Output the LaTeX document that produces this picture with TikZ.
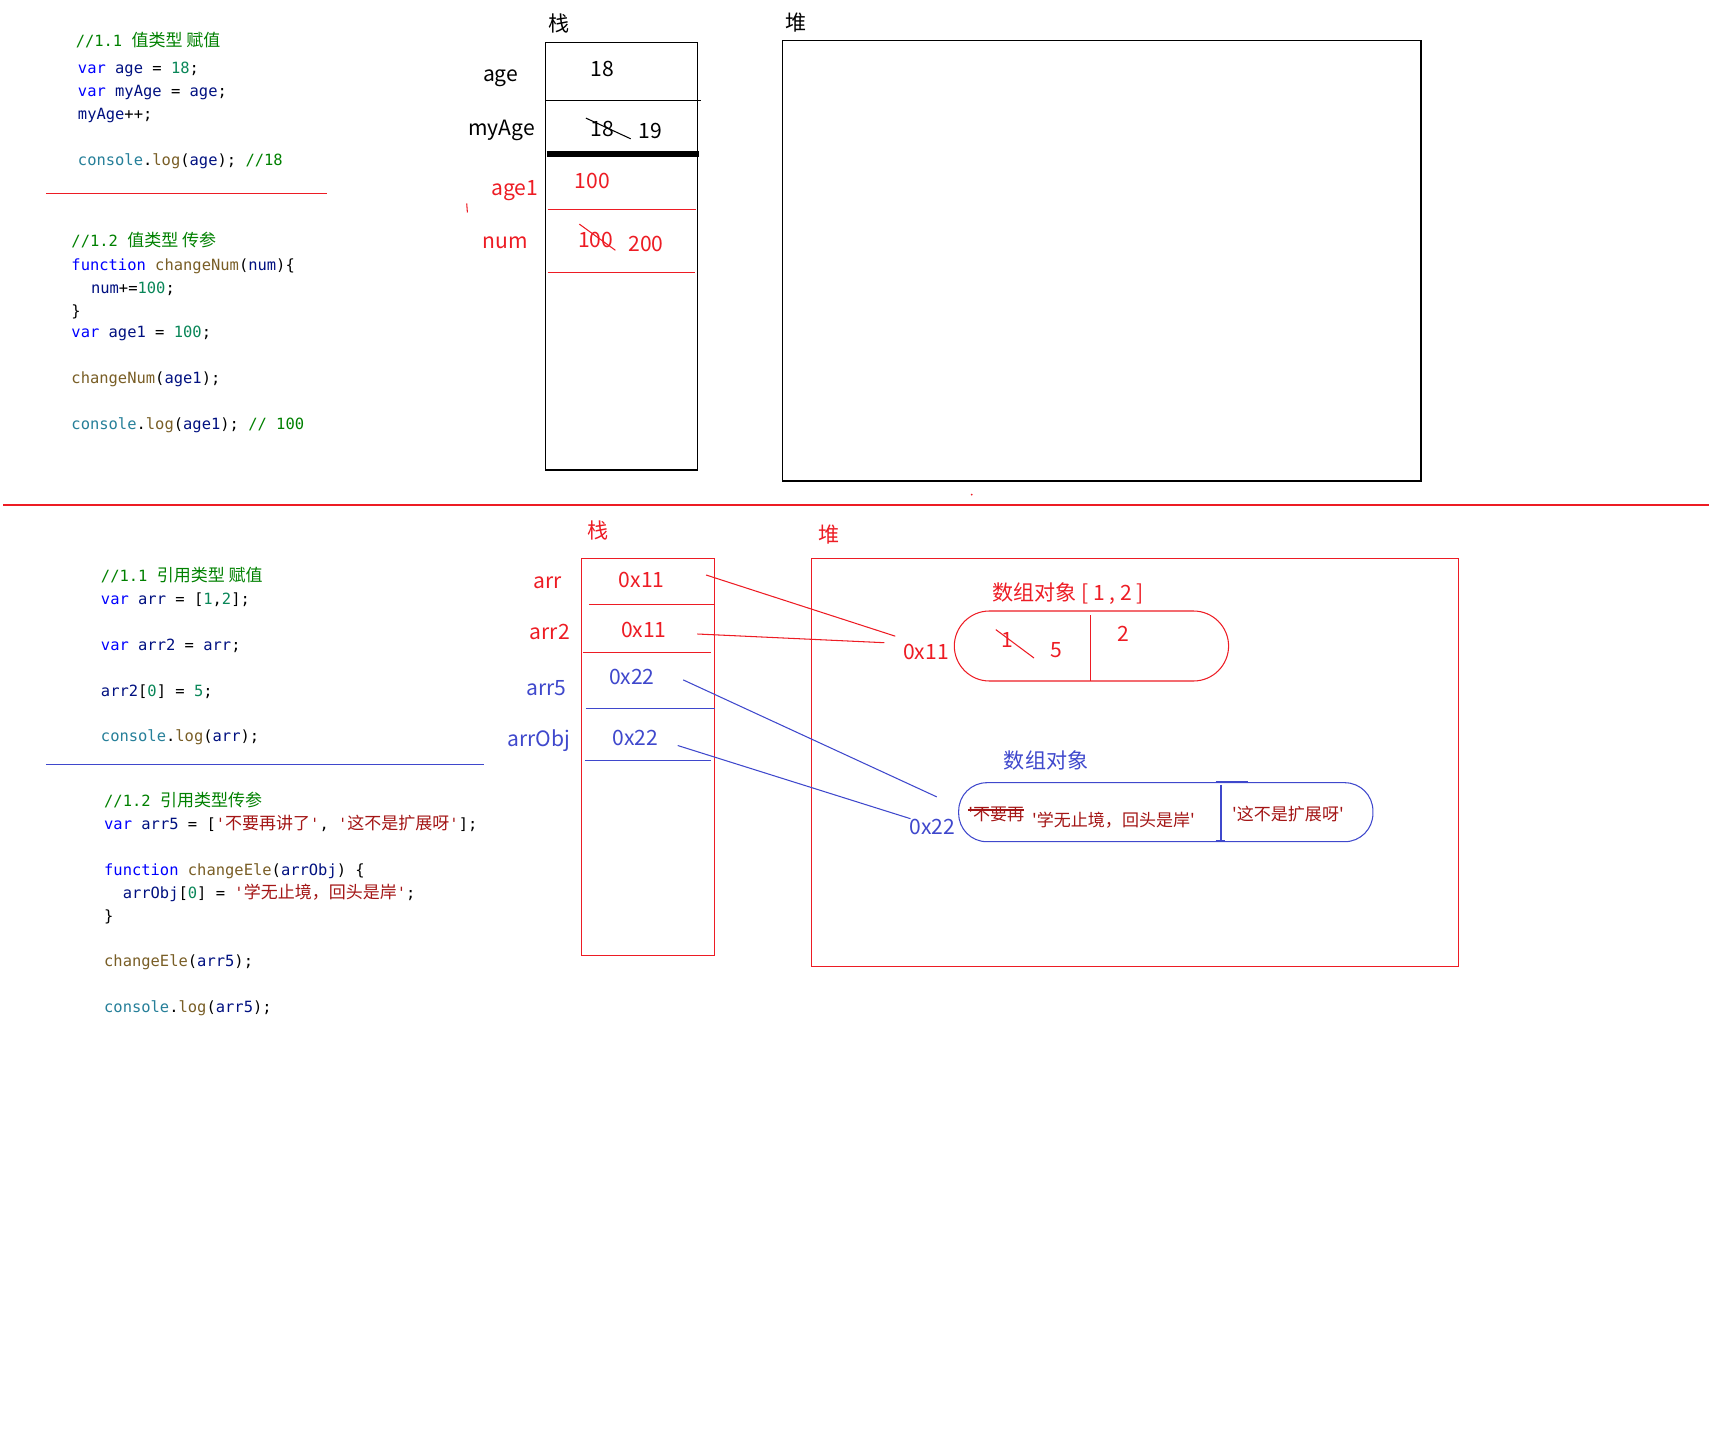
\documentclass[tikz,border=0pt]{standalone}
\usepackage{fontspec}
\setsansfont{Noto Sans CJK SC}
\setmonofont{DejaVu Sans Mono}
\newfontfamily\zhfont{Noto Sans CJK SC}[Scale=1.1]
\newfontfamily\boxfont{Noto Sans CJK SC}

\definecolor{pred}{RGB}{237,28,36}
\definecolor{pblue}{RGB}{63,72,204}
\definecolor{kwcol}{RGB}{0,0,255}
\definecolor{cmcol}{RGB}{0,128,0}
\definecolor{nucol}{RGB}{9,134,88}
\definecolor{fncol}{RGB}{121,94,38}
\definecolor{vrcol}{RGB}{0,16,128}
\definecolor{stcol}{RGB}{163,21,21}
\definecolor{cscol}{RGB}{38,127,153}

\newcommand\zh[1]{{\zhfont #1}}
\newcommand\kwd[1]{\textcolor{kwcol}{#1}}
\newcommand\cmt[1]{\textcolor{cmcol}{#1}}
\newcommand\cnum[1]{\textcolor{nucol}{#1}}
\newcommand\fnc[1]{\textcolor{fncol}{#1}}
\newcommand\vrb[1]{\textcolor{vrcol}{#1}}
\newcommand\cstr[1]{\textcolor{stcol}{#1}}
\newcommand\csl{\textcolor{cscol}{console}.\fnc{log}}
\newcommand\codefont{\ttfamily\fontsize{8.8}{10}\selectfont}
\newcommand\lblfont{\sffamily\fontsize{12}{14}\selectfont}

\begin{document}
\begin{tikzpicture}[x=0.02cm,y=-0.02cm,
  code/.style={anchor=west,inner sep=0,font=\codefont,text height=0.75em,text depth=0.25em,yshift=-1.9pt},
  lbl/.style={inner sep=0,font=\lblfont,text height=0.75em,text depth=0.22em,yshift=-1.9pt},
  strtxt/.style={inner sep=0,anchor=west,text=stcol,font=\boxfont\fontsize{9.7}{11}\selectfont,text height=0.75em,text depth=0.22em,yshift=-2.2pt},
  thin/.style={line width=0.6pt}]
\useasboundingbox (0,0) rectangle (1714,1436);
\def\yA{65.6}
\def\yB{88.5}
\def\yC{111.5}
\def\yD{157.4}

% ---- top: value types, code
\path
(75.4,38.3) node [code] (c1) {\cmt{//1.1 \zh{值类型 赋值}}}
(77.6,\yA) node [code] (c2) {\kwd{var} \vrb{age} = \cnum{18};}
(77.6,\yB) node [code] (c3) {\kwd{var} \vrb{myAge} = \vrb{age};}
(77.6,\yC) node [code] (c4) {\vrb{myAge}++;}
(77.6,\yD) node [code] (c5) {\csl(\vrb{age}); \cmt{//18}}
(71.1,238.3) node [code] (c6) {\cmt{//1.2 \zh{值类型 传参}}}
(71.1,262.3) node [code] (c7) {\kwd{function} \fnc{changeNum}(\vrb{num})\{}
(90.7,285.3) node [code] (c8) {\vrb{num}+=\cnum{100};}
(71.1,308.3) node [code] (c9) {\}}
(71.1,330.1) node [code] (c10) {\kwd{var} \vrb{age1} = \cnum{100};}
(71.1,376.0) node [code] (c11) {\fnc{changeNum}(\vrb{age1});}
(71.1,421.9) node [code] (c12) {\csl(\vrb{age1}); \cmt{// 100}}
;
\draw[thin,pred] (45.9,193.5) -- (326.8,193.5);

% ---- top: stack and heap
\draw[thin] (545.5,42.6) rectangle (697.4,470);
\draw[thin] (782.7,40.4) rectangle (1421,481);
\draw[thin] (545.5,100.6) -- (700.7,100.6);
\draw[line width=3.1pt] (546.6,154.1) -- (698.5,154.1);
\draw[thin,pred] (547.6,209.9) -- (696.3,209.9);
\draw[thin,pred] (547.6,272.2) -- (695.2,272.2);
\path
(558.6,24) node [lbl] (stk1) {栈}
(795.8,23) node [lbl] (heap1) {堆}
(500.6,73.2) node [lbl] (nAge) {age}
(501.7,127.9) node [lbl] (nMyAge) {myAge}
(514.9,188) node [lbl,text=pred] (nAge1) {age1}
(505,240.5) node [lbl,text=pred] (nNum) {num}
(602.3,68.9) node [lbl] (vAge) {18}
(602.3,129) node [lbl] (vMyOld) {18}
(650.4,130.1) node [lbl] (vMyNew) {19}
(592.5,180.4) node [lbl,text=pred] (vAge1) {100}
(595.7,239.4) node [lbl,text=pred] (vNumOld) {100}
(646,243.8) node [lbl,text=pred] (vNumNew) {200}
;
\draw[thin] (585.9,118.1) -- (630.7,138.8);
\draw[thin,pred] (579.3,224.1) -- (615.4,250.3);
\draw[thin,pred] (466.7,203.5) -- (467.4,212.5);
\fill[pred] (971.7,494.7) circle (1);

\draw[thin,pred] (3.3,505) -- (1708.5,505);

% ---- bottom: reference types, code
\path
(100.6,573.9) node [code] (d1) {\cmt{//1.1 \zh{引用类型 赋值}}}
(100.6,596.8) node [code] (d2) {\kwd{var} \vrb{arr} = [\cnum{1},\cnum{2}];}
(100.6,642.7) node [code] (d3) {\kwd{var} \vrb{arr2} = \vrb{arr};}
(100.6,688.7) node [code] (d4) {\vrb{arr2}[\cnum{0}] = \cnum{5};}
(100.6,733.5) node [code] (d5) {\csl(\vrb{arr});}
(103.8,799.1) node [code] (d6) {\cmt{//1.2 \zh{引用类型传参}}}
(103.8,822.0) node [code] (d7) {\kwd{var} \vrb{arr5} = [\cstr{'\zh{不要再讲了}'}, \cstr{'\zh{这不是扩展呀}'}];}
(103.8,867.9) node [code] (d8) {\kwd{function} \fnc{changeEle}(\vrb{arrObj}) \{}
(122.4,890.9) node [code] (d9) {\vrb{arrObj}[\cnum{0}] = \cstr{'\zh{学无止境，回头是岸}'};}
(103.8,913.8) node [code] (d10) {\}}
(103.8,958.7) node [code] (d11) {\fnc{changeEle}(\vrb{arr5});}
(103.8,1004.6) node [code] (d12) {\csl(\vrb{arr5});}
;
\draw[thin,pblue] (45.9,764.1) -- (484.2,764.1);

% ---- bottom: stack
\draw[thin,pred] (581.5,558.6) rectangle (714.9,955.4);
\draw[thin,pred] (589.2,604.5) -- (714.9,604.5);
\draw[thin,pred] (582.6,652.6) -- (710.5,652.6);
\draw[thin,pblue] (585.9,708.3) -- (714.9,708.3);
\draw[thin,pblue] (584.8,760.8) -- (710.5,760.8);
\path
(598,530.2) node [lbl,text=pred] (stk2) {栈}
(547.6,580.4) node [lbl,text=pred] (nArr) {arr}
(549.8,631.8) node [lbl,text=pred] (nArr2) {arr2}
(546.6,687.6) node [lbl,text=pblue] (nArr5) {arr5}
(538.9,739) node [lbl,text=pblue] (nArrObj) {arrObj}
(641.6,579.3) node [lbl,text=pred] (vArr) {0x11}
(643.8,629.6) node [lbl,text=pred] (vArr2) {0x11}
(631.8,676.6) node [lbl,text=pblue] (vArr5) {0x22}
(635.1,737.8) node [lbl,text=pblue] (vArrObj) {0x22}
;

% ---- bottom: heap
\draw[thin,pred] (811.1,558.6) rectangle (1458.2,966.3);
\draw[thin,pred,rounded corners=20] (954.3,611) rectangle (1228.6,681);
\draw[thin,pred] (1090.9,615.4) -- (1090.9,681);
\draw[thin,pblue,rounded corners=16] (958.7,782.7) rectangle (1372.9,841.7);
\draw[thin,pblue] (1221,784.8) -- (1221,840.6);
\draw[thin,pblue] (1215.5,781.3) -- (1248.3,781.3);
\draw[thin,pblue] (1215.5,840.4) -- (1225,840.4);
\path
(828.6,534.5) node [lbl,text=pred] (heap2) {堆}
(1068,592.5) node [lbl,text=pred] (obj1) {数组对象 [ 1 , 2 ]}
(925.9,651.5) node [lbl,text=pred] (h11) {0x11}
(1007.8,639.5) node [lbl,text=pred] (e1old) {1}
(1056,649.3) node [lbl,text=pred] (e1new) {5}
(1123.7,634) node [lbl,text=pred] (e2) {2}
(1046.1,760.8) node [lbl,text=pblue] (obj2) {数组对象}
(932.4,826.4) node [lbl,text=pblue] (h22) {0x22}
(968,811.7) node [strtxt] (s1old) {'不要再}
(1031.7,818.3) node [strtxt] (s1new) {'学无止境，回头是岸'}
(1231.7,811.7) node [strtxt] (s2) {'这不是扩展呀'}
;
\draw[thin,pred] (995.8,629.6) -- (1034,658);
\draw[thin,stcol] (968,810) -- (1024,810);

% ---- pointers
\coordinate (p1) at (706.1,575);
\coordinate (q1) at (895.3,636.2);
\coordinate (p2) at (697.4,634);
\coordinate (q2) at (884.3,642.7);
\coordinate (p3) at (683.2,679.9);
\coordinate (q3) at (936.8,796.9);
\coordinate (p4) at (677.7,745.5);
\coordinate (q4) at (910.5,818.7);
\begin{scope}[every path/.style={draw,thin}]
\path[pred] (p1) -- (q1);
\path[pred] (p2) -- (q2);
\path[pblue] (p3) -- (q3);
\path[pblue] (p4) -- (q4);
\end{scope}
\end{tikzpicture}
\end{document}
